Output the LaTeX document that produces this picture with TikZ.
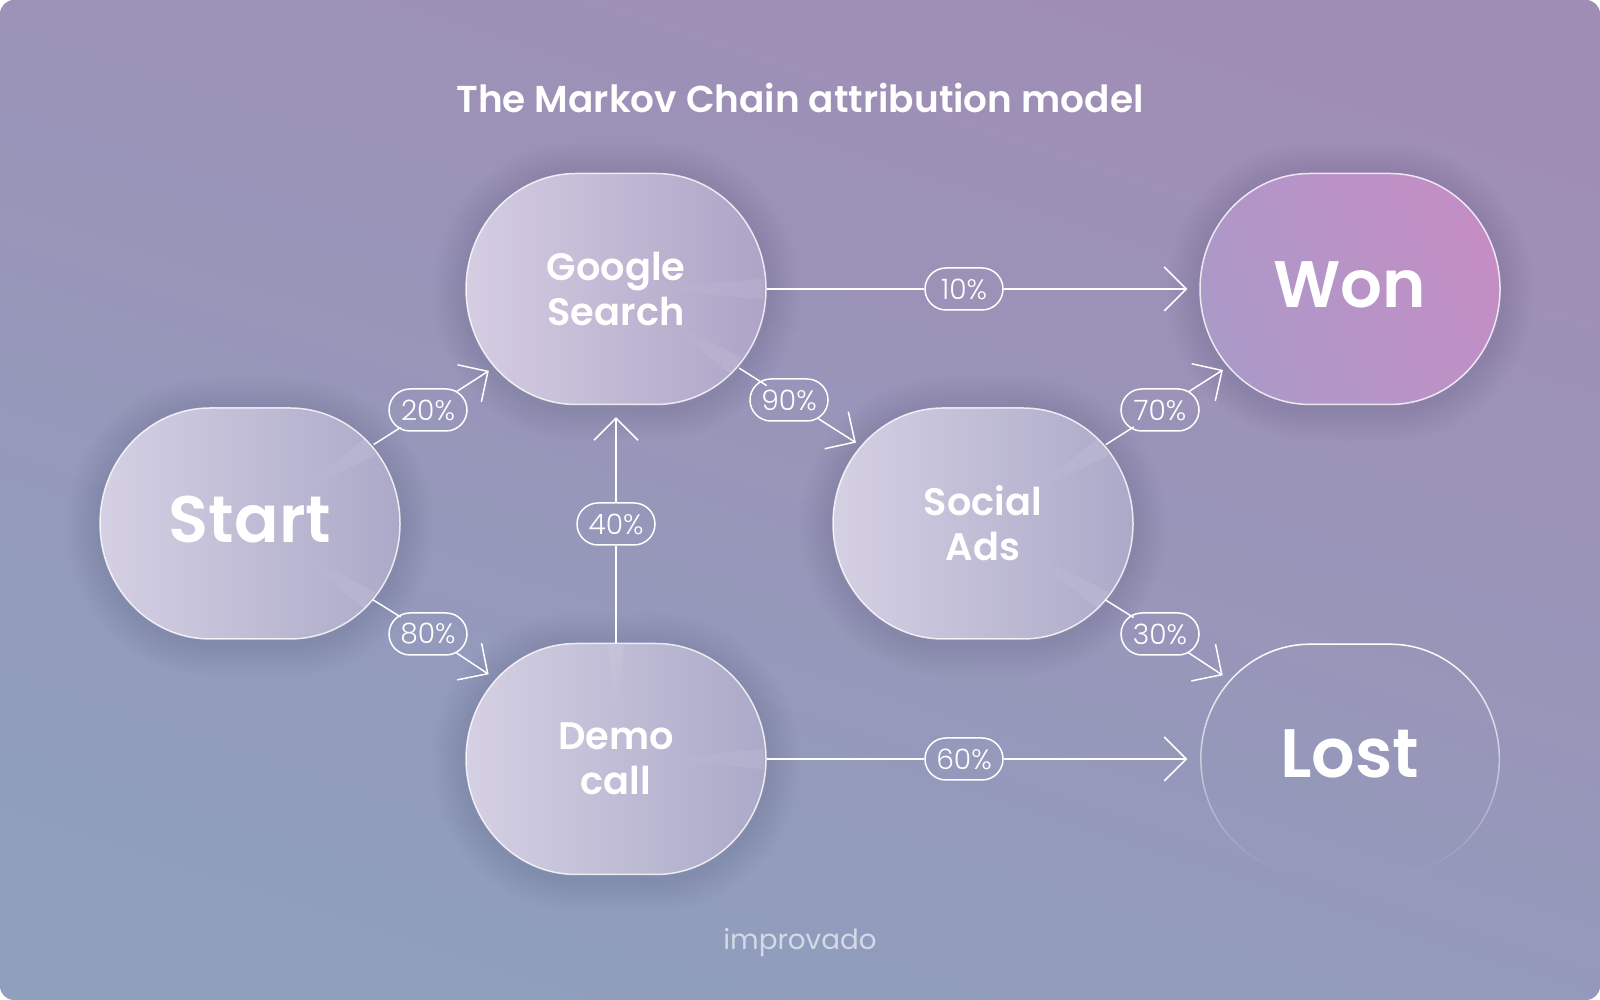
\documentclass[tikz,border=0pt]{standalone}
\usepackage{fontspec}
\setmainfont{Poppins SemiBold}
\newfontfamily\thinfont{Poppins Light}
\newfontfamily\logofont{Poppins}
\usetikzlibrary{arrows.meta,fadings}
\definecolor{bgtop}{HTML}{A08DB5}
\definecolor{bgbot}{HTML}{8F9FBE}
\definecolor{glassl}{HTML}{D5D0E3}
\definecolor{glassr}{HTML}{ABA9C8}
\definecolor{googlel}{HTML}{D5CDE2}
\definecolor{googler}{HTML}{ADA3C6}
\definecolor{wonl}{HTML}{AB99C8}
\definecolor{wonr}{HTML}{C48EC5}
\definecolor{shadowc}{HTML}{5E5A86}
\definecolor{logoc}{HTML}{D2D9E7}
\tikzfading[name=lostfade, top color=transparent!0, middle color=transparent!12, bottom color=transparent!100]
\tikzfading[name=glintfade, left color=transparent!100, right color=transparent!0]
\tikzset{
  softlayer/.style={preaction={draw=shadowc,draw opacity=.028,line width=#1,transform canvas={yshift=-.03cm}}},
  softshade/.style={softlayer=.66cm,softlayer=.58cm,softlayer=.50cm,softlayer=.42cm,
    softlayer=.34cm,softlayer=.26cm,softlayer=.18cm,softlayer=.10cm},
  rim/.style={draw=white,draw opacity=.8,line width=.015cm},
  glass/.style={softshade,rim,left color=glassl,right color=glassr},
  goo/.style={softshade,rim,left color=googlel,right color=googler},
  wonblob/.style={softshade,rim,left color=wonl,right color=wonr,shading angle=115},
  blob/.style={minimum width=3cm,minimum height=2.31cm,text=white,align=center,inner sep=0pt},
  bigword/.style={font=\fontsize{18.7}{22}\selectfont,text height=.6cm,text depth=.22cm},
  smallword/.style={font=\fontsize{10.9}{12.9}\selectfont},
  pct/.style={draw=white,line width=.015cm,rounded corners=.21cm,minimum width=.78cm,
    minimum height=.42cm,inner sep=0pt,text=white,font=\thinfont\fontsize{8}{9}\selectfont},
  link/.style={draw=white,line width=.015cm},
  linkto/.style={link,-{Straight Barb[length=.22cm,width=.44cm]}},
  outblob/.style={shorten <=0cm,shorten >=-.24cm},
  intoblob/.style={shorten <=-.06cm,shorten >=-.28cm},
  glint/.style={white,fill opacity=.09,path fading=glintfade}
}
% the outline of a blob round a centre
\newcommand{\blobpath}[1]{(#1) ++(-1.5,0)
  arc [start angle=180,end angle=90,x radius=1.1,y radius=1.155] -- ++(.8,0)
  arc [start angle=90,end angle=-90,x radius=1.1,y radius=1.155] -- ++(-.8,0)
  arc [start angle=-90,end angle=-180,x radius=1.1,y radius=1.155] -- cycle}
% node, angle, inner radius, outer radius
\newcommand{\glintat}[4]{\fill[glint,fading angle=#2]
  ([shift={(#2:#3)}]#1.center) -- ([shift={(#2+4:#4)}]#1.center) -- ([shift={(#2-4:#4)}]#1.center) -- cycle;}
\begin{document}
\begin{tikzpicture}
  \useasboundingbox (0,0) rectangle (16,10);
  \shade[rounded corners=.14cm,top color=bgtop,bottom color=bgbot,shading angle=-18] (0,0) rectangle (16,10);
  \node[text=white,font=\fontsize{10.65}{12}\selectfont] (title) at (8,9.02) {The Markov Chain attribution model};
  % blobs
  \path[glass] \blobpath{2.5,4.765};
  \node[blob,bigword] (start) at (2.5,4.765) {Start};
  \path[goo] \blobpath{6.16,7.11};
  \node[blob,smallword] (google) at (6.16,7.11) {Google\\Search};
  \path[glass] \blobpath{6.16,2.41};
  \node[blob,smallword] (demo) at (6.16,2.41) {Demo\\call};
  \path[glass] \blobpath{9.83,4.765};
  \node[blob,smallword] (social) at (9.83,4.765) {Social\\Ads};
  \path[wonblob] \blobpath{13.5,7.11};
  \node[blob,bigword] (won) at (13.5,7.11) {Won};
  \node[blob,bigword,font=\fontsize{19.5}{22}\selectfont] (lost) at (13.5,2.41) {Lost};
  \fill[white,even odd rule,path fading=lostfade]
    \blobpath{13.5,2.41}
    (13.5,2.41) ++(-1.485,0)
    arc [start angle=180,end angle=90,x radius=1.085,y radius=1.14] -- ++(.8,0)
    arc [start angle=90,end angle=-90,x radius=1.085,y radius=1.14] -- ++(-.8,0)
    arc [start angle=-90,end angle=-180,x radius=1.085,y radius=1.14] -- cycle;
  % light on the glass
  \glintat{start}{32.6}{.5}{1.43}
  \glintat{start}{-32.6}{.5}{1.43}
  \glintat{google}{0}{.3}{1.48}
  \glintat{google}{-32.6}{.5}{1.43}
  \glintat{demo}{0}{.5}{1.48}
  \glintat{demo}{90}{.4}{1.14}
  \glintat{social}{32.6}{.5}{1.43}
  \glintat{social}{-32.6}{.5}{1.43}
  % percentages
  \node[pct] (p20) at (4.28,5.90) {20\%};
  \node[pct] (p80) at (4.28,3.66) {80\%};
  \node[pct] (p40) at (6.16,4.76) {40\%};
  \node[pct] (p90) at (7.89,6.00) {90\%};
  \node[pct] (p10) at (9.64,7.11) {10\%};
  \node[pct] (p60) at (9.64,2.41) {60\%};
  \node[pct] (p70) at (11.60,5.90) {70\%};
  \node[pct] (p30) at (11.60,3.66) {30\%};
  % connectors
  \draw[link,outblob] (start) -- (p20);
  \draw[linkto,intoblob] (p20) -- (google);
  \draw[link,outblob] (start) -- (p80);
  \draw[linkto,intoblob] (p80) -- (demo);
  \draw[link] (demo) -- (p40);
  \draw[linkto,shorten >=.12cm] (p40) -- (google);
  \draw[link,outblob,shorten >=-.19cm] (google) -- (p90);
  \draw[linkto,intoblob] (p90) -- (social);
  \draw[link] (google) -- (p10);
  \draw[linkto,shorten >=.12cm] (p10) -- (won);
  \draw[link] (demo) -- (p60);
  \draw[linkto,shorten >=.12cm] (p60) -- (lost);
  \draw[link,outblob] (social) -- (p70);
  \draw[linkto,intoblob] (p70) -- (won);
  \draw[link,outblob] (social) -- (p30);
  \draw[linkto,intoblob] (p30) -- (lost);
  \node[text=logoc,font=\logofont\fontsize{7.9}{9}\selectfont] (logo) at (8,.57) {improvado};
\end{tikzpicture}
\end{document}
